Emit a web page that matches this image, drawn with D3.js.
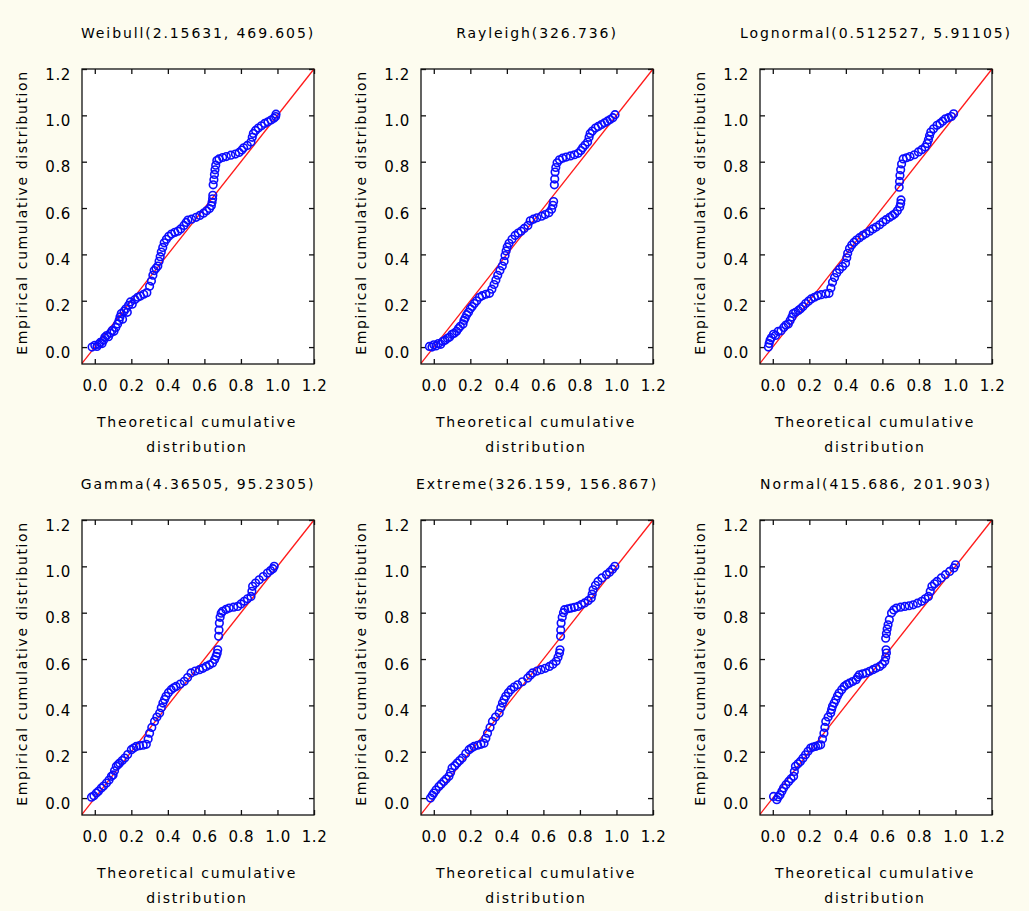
<!DOCTYPE html>
<html>
<head>
<meta charset="utf-8">
<script src="https://cdn.jsdelivr.net/npm/d3@7"></script>
<style>
  html, body { margin: 0; padding: 0; background: #fdfcef; }
  svg { display: block; }
  text { font-family: "DejaVu Sans", Verdana, sans-serif; fill: #000; }
</style>
</head>
<body>
<svg id="chart" width="1029" height="911"></svg>
<script>
// P-P plots: empirical vs theoretical cumulative distribution for six fitted models.
const titles = [
  "Weibull(2.15631, 469.605)",
  "Rayleigh(326.736)",
  "Lognormal(0.512527, 5.91105)",
  "Gamma(4.36505, 95.2305)",
  "Extreme(326.159, 156.867)",
  "Normal(415.686, 201.903)"
];
const xTicks = [0.0, 0.2, 0.4, 0.6, 0.8, 1.0, 1.2];
const yTicks = [0.0, 0.2, 0.4, 0.6, 0.8, 1.0, 1.2];
const xLabelLines = ["Theoretical cumulative", "distribution"];
const yLabel = "Empirical cumulative distribution";

// [theoretical, empirical] pairs per model
const weibull = [[-0.015,0.000],[0.000,0.008],[0.012,0.003],[0.022,0.012],[0.030,0.020],[0.040,0.015],[0.048,0.030],[0.055,0.042],[0.065,0.050],[0.075,0.045],[0.085,0.060],[0.095,0.072],[0.105,0.068],[0.115,0.085],[0.125,0.100],[0.133,0.115],[0.138,0.130],[0.145,0.145],[0.152,0.120],[0.160,0.155],[0.170,0.165],[0.178,0.150],[0.185,0.180],[0.195,0.195],[0.205,0.185],[0.220,0.205],[0.235,0.215],[0.250,0.220],[0.268,0.228],[0.285,0.235],[0.300,0.262],[0.310,0.285],[0.318,0.310],[0.325,0.330],[0.335,0.340],[0.345,0.350],[0.352,0.370],[0.358,0.390],[0.364,0.410],[0.372,0.430],[0.380,0.450],[0.392,0.465],[0.405,0.478],[0.420,0.488],[0.438,0.495],[0.455,0.500],[0.470,0.510],[0.488,0.525],[0.500,0.538],[0.510,0.548],[0.530,0.552],[0.555,0.560],[0.575,0.568],[0.595,0.578],[0.612,0.588],[0.628,0.598],[0.638,0.610],[0.642,0.625],[0.645,0.640],[0.646,0.655],[0.648,0.700],[0.652,0.722],[0.655,0.745],[0.658,0.765],[0.662,0.785],[0.668,0.805],[0.680,0.812],[0.700,0.818],[0.720,0.822],[0.745,0.828],[0.770,0.833],[0.790,0.840],[0.805,0.850],[0.815,0.860],[0.835,0.870],[0.855,0.885],[0.862,0.905],[0.868,0.922],[0.880,0.935],[0.895,0.945],[0.912,0.955],[0.930,0.965],[0.948,0.972],[0.965,0.980],[0.980,0.988],[0.990,0.995],[0.992,1.005]];

const rayleigh = [[-0.024,0.003],[-0.010,0.000],[0.000,0.010],[0.012,0.005],[0.025,0.015],[0.038,0.012],[0.050,0.025],[0.062,0.030],[0.075,0.038],[0.087,0.043],[0.100,0.055],[0.112,0.060],[0.125,0.068],[0.135,0.080],[0.145,0.090],[0.160,0.100],[0.165,0.115],[0.172,0.125],[0.180,0.140],[0.190,0.150],[0.200,0.165],[0.210,0.175],[0.222,0.188],[0.235,0.200],[0.250,0.215],[0.265,0.222],[0.285,0.228],[0.305,0.232],[0.318,0.250],[0.330,0.270],[0.340,0.290],[0.350,0.310],[0.362,0.330],[0.375,0.350],[0.385,0.370],[0.390,0.395],[0.396,0.415],[0.402,0.432],[0.412,0.448],[0.428,0.465],[0.445,0.482],[0.462,0.492],[0.478,0.500],[0.495,0.512],[0.515,0.525],[0.528,0.545],[0.545,0.552],[0.565,0.558],[0.590,0.565],[0.610,0.572],[0.630,0.580],[0.645,0.595],[0.652,0.612],[0.656,0.628],[0.660,0.700],[0.662,0.725],[0.664,0.755],[0.668,0.775],[0.675,0.795],[0.688,0.808],[0.705,0.815],[0.725,0.820],[0.748,0.825],[0.770,0.830],[0.790,0.836],[0.805,0.848],[0.815,0.860],[0.828,0.872],[0.842,0.885],[0.850,0.905],[0.856,0.922],[0.868,0.932],[0.885,0.945],[0.900,0.952],[0.918,0.960],[0.935,0.968],[0.950,0.975],[0.965,0.982],[0.980,0.990],[0.992,1.003]];

const lognormal = [[-0.024,0.000],[-0.020,0.015],[-0.015,0.030],[-0.008,0.040],[0.004,0.055],[0.015,0.050],[0.030,0.068],[0.045,0.070],[0.060,0.085],[0.072,0.095],[0.085,0.100],[0.095,0.115],[0.105,0.130],[0.112,0.145],[0.125,0.150],[0.140,0.158],[0.152,0.165],[0.165,0.175],[0.180,0.188],[0.195,0.198],[0.210,0.208],[0.228,0.215],[0.245,0.222],[0.265,0.226],[0.290,0.230],[0.308,0.232],[0.318,0.255],[0.327,0.280],[0.338,0.300],[0.350,0.320],[0.365,0.335],[0.382,0.348],[0.398,0.362],[0.405,0.385],[0.410,0.405],[0.420,0.425],[0.432,0.440],[0.445,0.452],[0.458,0.462],[0.475,0.472],[0.492,0.482],[0.510,0.490],[0.530,0.500],[0.548,0.510],[0.566,0.518],[0.585,0.528],[0.603,0.540],[0.620,0.550],[0.640,0.560],[0.655,0.568],[0.668,0.575],[0.682,0.588],[0.695,0.605],[0.700,0.620],[0.702,0.635],[0.692,0.690],[0.694,0.715],[0.696,0.740],[0.700,0.765],[0.705,0.790],[0.714,0.812],[0.732,0.817],[0.751,0.822],[0.775,0.830],[0.797,0.842],[0.815,0.852],[0.834,0.863],[0.845,0.878],[0.852,0.895],[0.858,0.912],[0.865,0.928],[0.880,0.942],[0.899,0.957],[0.915,0.965],[0.930,0.975],[0.945,0.985],[0.962,0.990],[0.978,0.995],[0.990,1.007]];

const gamma = [[-0.018,0.004],[-0.005,0.010],[0.009,0.022],[0.020,0.030],[0.036,0.043],[0.048,0.052],[0.064,0.065],[0.078,0.078],[0.091,0.094],[0.100,0.100],[0.108,0.118],[0.118,0.137],[0.128,0.145],[0.136,0.151],[0.150,0.162],[0.164,0.173],[0.180,0.188],[0.200,0.209],[0.213,0.216],[0.227,0.223],[0.245,0.226],[0.265,0.228],[0.282,0.232],[0.292,0.255],[0.300,0.280],[0.312,0.305],[0.327,0.331],[0.340,0.350],[0.355,0.367],[0.364,0.390],[0.373,0.410],[0.382,0.425],[0.390,0.439],[0.403,0.455],[0.418,0.468],[0.432,0.476],[0.445,0.482],[0.468,0.492],[0.490,0.504],[0.508,0.520],[0.527,0.540],[0.550,0.548],[0.573,0.554],[0.592,0.560],[0.610,0.568],[0.628,0.575],[0.645,0.583],[0.656,0.598],[0.664,0.612],[0.670,0.625],[0.673,0.640],[0.678,0.698],[0.680,0.725],[0.682,0.755],[0.686,0.780],[0.692,0.798],[0.700,0.806],[0.718,0.814],[0.736,0.820],[0.760,0.824],[0.782,0.827],[0.800,0.838],[0.818,0.849],[0.836,0.860],[0.855,0.870],[0.860,0.892],[0.864,0.914],[0.880,0.928],[0.900,0.942],[0.922,0.956],[0.945,0.971],[0.962,0.982],[0.975,0.990],[0.982,1.000]];

const extreme = [[-0.018,0.000],[-0.008,0.012],[0.000,0.022],[0.012,0.035],[0.028,0.050],[0.040,0.060],[0.055,0.072],[0.068,0.082],[0.083,0.094],[0.092,0.110],[0.100,0.130],[0.115,0.140],[0.128,0.151],[0.142,0.162],[0.156,0.173],[0.175,0.192],[0.193,0.209],[0.206,0.216],[0.220,0.223],[0.240,0.228],[0.258,0.232],[0.275,0.237],[0.285,0.258],[0.294,0.280],[0.308,0.305],[0.321,0.331],[0.338,0.350],[0.358,0.367],[0.367,0.390],[0.376,0.410],[0.385,0.425],[0.394,0.439],[0.408,0.455],[0.422,0.468],[0.440,0.479],[0.459,0.489],[0.485,0.502],[0.514,0.518],[0.528,0.530],[0.541,0.540],[0.565,0.548],[0.587,0.554],[0.610,0.560],[0.633,0.568],[0.652,0.578],[0.670,0.590],[0.680,0.608],[0.688,0.626],[0.691,0.640],[0.694,0.698],[0.695,0.725],[0.697,0.755],[0.703,0.780],[0.710,0.800],[0.716,0.813],[0.735,0.817],[0.752,0.820],[0.770,0.823],[0.789,0.827],[0.808,0.835],[0.826,0.842],[0.845,0.852],[0.862,0.863],[0.867,0.880],[0.872,0.899],[0.885,0.918],[0.899,0.935],[0.920,0.950],[0.945,0.964],[0.962,0.975],[0.978,0.988],[0.991,1.000]];

const normal = [[0.004,0.007],[0.022,-0.007],[0.030,0.005],[0.040,0.014],[0.050,0.030],[0.059,0.043],[0.072,0.058],[0.087,0.072],[0.100,0.083],[0.114,0.094],[0.118,0.115],[0.124,0.137],[0.138,0.148],[0.151,0.158],[0.165,0.172],[0.179,0.187],[0.193,0.202],[0.207,0.216],[0.220,0.220],[0.234,0.223],[0.248,0.227],[0.262,0.230],[0.272,0.255],[0.280,0.280],[0.285,0.305],[0.290,0.331],[0.303,0.350],[0.317,0.367],[0.322,0.382],[0.327,0.396],[0.336,0.410],[0.345,0.424],[0.354,0.440],[0.363,0.453],[0.377,0.468],[0.391,0.482],[0.405,0.490],[0.419,0.496],[0.437,0.503],[0.456,0.511],[0.465,0.522],[0.474,0.532],[0.492,0.536],[0.511,0.540],[0.530,0.547],[0.548,0.554],[0.566,0.561],[0.585,0.568],[0.600,0.578],[0.613,0.590],[0.618,0.608],[0.622,0.626],[0.620,0.640],[0.618,0.690],[0.622,0.710],[0.626,0.730],[0.631,0.748],[0.638,0.770],[0.650,0.799],[0.662,0.812],[0.677,0.820],[0.700,0.824],[0.723,0.827],[0.746,0.830],[0.769,0.834],[0.792,0.841],[0.815,0.849],[0.834,0.860],[0.852,0.870],[0.862,0.892],[0.871,0.914],[0.885,0.925],[0.899,0.935],[0.922,0.950],[0.945,0.964],[0.968,0.978],[0.991,0.993],[1.000,1.007]];

const seriesList = [weibull, rayleigh, lognormal, gamma, extreme, normal];

// Layout
const colLeft = [82, 421, 760];
const rowTop = [69, 520];
const plotW = 232, plotH = 295;
const xDomain = [-0.07, 1.2];
const yDomain = [-0.073, 1.2];
const tickLen = 5;

const svg = d3.select("#chart");

seriesList.forEach((pts, i) => {
  const left = colLeft[i % 3];
  const top = rowTop[Math.floor(i / 3)];
  const x = d3.scaleLinear().domain(xDomain).range([0, plotW]);
  const y = d3.scaleLinear().domain(yDomain).range([plotH, 0]);

  const g = svg.append("g").attr("transform", `translate(${left},${top})`);

  // plot area
  g.append("rect").attr("width", plotW).attr("height", plotH)
    .attr("fill", "#ffffff");

  // title
  g.append("text")
    .attr("x", plotW / 2).attr("y", -31)
    .attr("text-anchor", "middle")
    .style("font-size", "14px").style("letter-spacing", "1.9px")
    .text(titles[i]);

  // axes with inward ticks on all four sides
  const fmt = d3.format(".1f");
  const bottom = g.append("g").attr("transform", `translate(0,${plotH})`)
    .call(d3.axisBottom(x).tickValues(xTicks).tickSize(-tickLen).tickPadding(0).tickFormat(fmt));
  const topAx = g.append("g")
    .call(d3.axisTop(x).tickValues(xTicks).tickSize(-tickLen).tickFormat(""));
  const leftAx = g.append("g")
    .call(d3.axisLeft(y).tickValues(yTicks).tickSize(-tickLen).tickPadding(0).tickFormat(fmt));
  const rightAx = g.append("g").attr("transform", `translate(${plotW},0)`)
    .call(d3.axisRight(y).tickValues(yTicks).tickSize(-tickLen).tickFormat(""));

  [bottom, topAx, leftAx, rightAx].forEach(a => {
    a.select(".domain").remove();
    a.selectAll(".tick line").attr("stroke", "#111").attr("stroke-width", 1.3);
  });
  bottom.selectAll(".tick text")
    .attr("y", 27).attr("dy", 0)
    .style("font-size", "15px").style("letter-spacing", "0.6px")
    .attr("font-family", null).attr("fill", "#000");
  leftAx.selectAll(".tick text")
    .attr("x", -11).attr("dy", 10)
    .style("font-size", "15px").style("letter-spacing", "0.6px")
    .attr("font-family", null).attr("fill", "#000");

  // reference diagonal
  g.append("line")
    .attr("x1", x(xDomain[0])).attr("y1", y(xDomain[0]))
    .attr("x2", x(1.2)).attr("y2", y(1.2))
    .attr("stroke", "#ff1a1a").attr("stroke-width", 1.3);

  // empirical points
  g.append("g").selectAll("circle").data(pts).join("circle")
    .attr("cx", d => x(d[0])).attr("cy", d => y(d[1]))
    .attr("r", 3.8)
    .attr("fill", "none").attr("stroke", "#0c0cff").attr("stroke-width", 1.6);

  // frame
  g.append("rect").attr("width", plotW).attr("height", plotH)
    .attr("fill", "none").attr("stroke", "#111").attr("stroke-width", 1.3);

  // x axis title
  xLabelLines.forEach((line, k) => {
    g.append("text")
      .attr("x", plotW / 2 - 1).attr("y", plotH + 63 + k * 25)
      .attr("text-anchor", "middle")
      .style("font-size", "14px").style("letter-spacing", "1.8px")
      .text(line);
  });

  // y axis title
  g.append("text")
    .attr("transform", `translate(-55,${plotH / 2 - 4}) rotate(-90)`)
    .attr("text-anchor", "middle")
    .style("font-size", "14px").style("letter-spacing", "1.6px")
    .text(yLabel);
});
</script>
</body>
</html>
